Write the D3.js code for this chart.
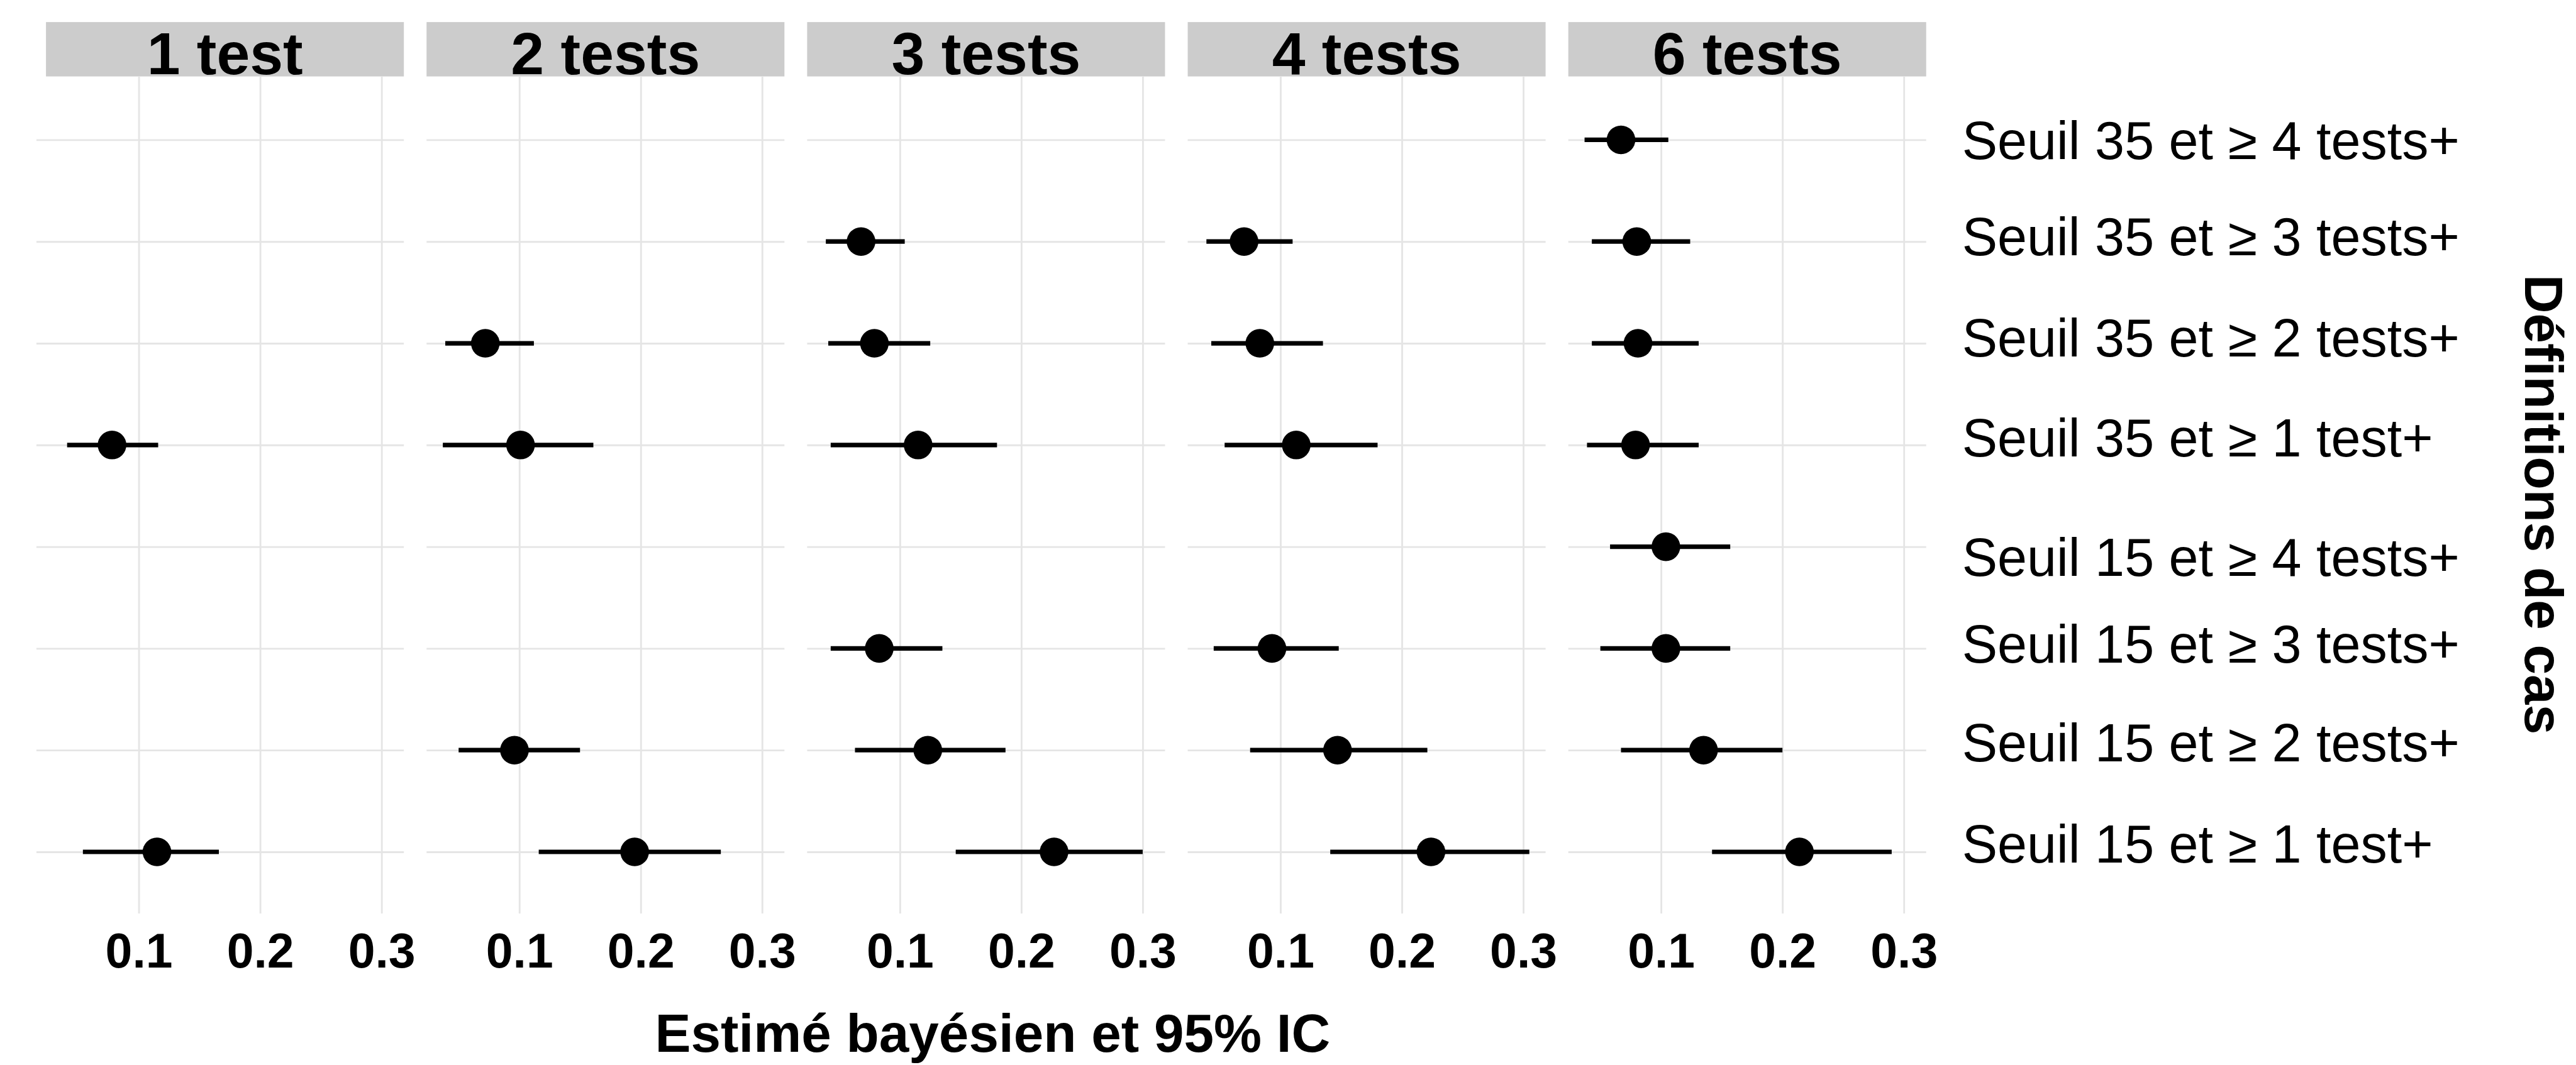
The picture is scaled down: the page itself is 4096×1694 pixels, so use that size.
<!DOCTYPE html>
<html>
<head>
<meta charset="utf-8">
<script src="https://cdn.jsdelivr.net/npm/d3@7"></script>
<style>
  body { margin: 0; background: #fff; }
  text { font-family: "Liberation Sans", Arial, sans-serif; }
</style>
</head>
<body>
<div id="root"></div>
<script>
// DATA
const panels = ["1 test", "2 tests", "3 tests", "4 tests", "6 tests"];
const rowLabels = [
  "Seuil 35 et ≥ 4 tests+",
  "Seuil 35 et ≥ 3 tests+",
  "Seuil 35 et ≥ 2 tests+",
  "Seuil 35 et ≥ 1 test+",
  "Seuil 15 et ≥ 4 tests+",
  "Seuil 15 et ≥ 3 tests+",
  "Seuil 15 et ≥ 2 tests+",
  "Seuil 15 et ≥ 1 test+"
];
const xTicks = [0.1, 0.2, 0.3];

// one row per panel, one value per case definition (null = not estimated)
const estimates = [
  [null,  null,  null,  0.078, null,  null,  null,  0.115],
  [null,  null,  0.072, 0.101, null,  null,  0.096, 0.195],
  [null,  0.068, 0.079, 0.115, null,  0.083, 0.123, 0.227],
  [null,  0.070, 0.083, 0.113, null,  0.093, 0.147, 0.224],
  [0.067, 0.080, 0.081, 0.079, 0.104, 0.104, 0.135, 0.214]
];
const lowers = [
  [null,  null,  null,  0.041, null,  null,  null,  0.054],
  [null,  null,  0.039, 0.037, null,  null,  0.050, 0.116],
  [null,  0.039, 0.041, 0.043, null,  0.043, 0.063, 0.146],
  [null,  0.039, 0.043, 0.054, null,  0.045, 0.075, 0.141],
  [0.037, 0.043, 0.043, 0.039, 0.058, 0.050, 0.067, 0.142]
];
const uppers = [
  [null,  null,  null,  0.116, null,  null,  null,  0.166],
  [null,  null,  0.112, 0.161, null,  null,  0.150, 0.266],
  [null,  0.104, 0.125, 0.180, null,  0.135, 0.187, 0.300],
  [null,  0.110, 0.135, 0.180, null,  0.148, 0.221, 0.305],
  [0.106, 0.124, 0.131, 0.131, 0.157, 0.157, 0.200, 0.290]
];

// small vertical offsets of the right-hand labels (as in the original)
const labelNudge = [0, -10, -10, -13, 16, -9, -14, -15];

// DIMENSIONS (reference pixels, scaled down as a whole)
const W = 4096, H = 1694, S = W / 4313;
const left = 77, panelW = 599.2, gap = 38;
const stripTop = 37, panelTop = 128, panelBottom = 1530;
const gridColor = "#e5e5e5";

const svg = d3.select("#root").append("svg")
  .attr("width", W)
  .attr("height", H);
const g = svg.append("g").attr("transform", `scale(${S})`);

// SCALES
const allVals = lowers.flat().concat(uppers.flat()).filter(v => v != null);
const [vmin, vmax] = d3.extent(allVals);
const pad = (vmax - vmin) * 0.05;
const x = d3.scaleLinear().domain([vmin - pad, vmax + pad]).range([0, panelW]);
const y = d3.scalePoint().domain(rowLabels).range([132, 1529]).padding(0.6);

panels.forEach((name, p) => {
  const pg = g.append("g").attr("transform", `translate(${left + p * (panelW + gap)},0)`);

  // strip
  pg.append("rect")
    .attr("x", 0).attr("y", stripTop)
    .attr("width", panelW).attr("height", panelTop - stripTop)
    .attr("fill", "#cccccc");
  pg.append("text")
    .attr("x", panelW / 2).attr("y", 124)
    .attr("text-anchor", "middle")
    .attr("font-weight", "bold")
    .attr("font-size", 100)
    .attr("fill", "#000")
    .text(name);

  // horizontal grid (first panel runs a little further left)
  const ext = p === 0 ? 16 : 0;
  const gy = pg.append("g")
    .attr("transform", `translate(${-ext},0)`)
    .call(d3.axisLeft(y).tickSize(-(panelW + ext)).tickFormat(""));
  gy.select(".domain").remove();
  gy.selectAll("line").attr("stroke", gridColor).attr("stroke-width", 3);

  // vertical grid + tick labels
  const gx = pg.append("g")
    .attr("transform", `translate(0,${panelBottom})`)
    .call(d3.axisBottom(x).tickValues(xTicks)
      .tickSize(-(panelBottom - panelTop))
      .tickPadding(33)
      .tickFormat(d3.format(".1f")));
  gx.select(".domain").remove();
  gx.selectAll("line").attr("stroke", gridColor).attr("stroke-width", 3);
  gx.selectAll("text")
    .attr("font-size", 81)
    .attr("font-weight", "bold")
    .attr("fill", "#000");

  // point ranges
  const rows = rowLabels.map((r, i) => ({row: r, est: estimates[p][i], lo: lowers[p][i], hi: uppers[p][i]}))
    .filter(d => d.est != null);

  pg.selectAll(".ci").data(rows).enter().append("line")
    .attr("x1", d => x(d.lo))
    .attr("x2", d => x(d.hi))
    .attr("y1", d => y(d.row))
    .attr("y2", d => y(d.row))
    .attr("stroke", "#000")
    .attr("stroke-width", 7.6);

  pg.selectAll(".pt").data(rows).enter().append("circle")
    .attr("cx", d => x(d.est))
    .attr("cy", d => y(d.row))
    .attr("r", 24)
    .attr("fill", "#000");

  // case definition labels on the right of the last panel
  if (p === panels.length - 1) {
    const gr = pg.append("g")
      .attr("transform", `translate(${panelW},0)`)
      .call(d3.axisRight(y).tickSize(0).tickPadding(60));
    gr.select(".domain").remove();
    gr.selectAll("text")
      .attr("font-size", 89)
      .attr("fill", "#000")
      .attr("dy", (d, i) => 31.9 + labelNudge[i]);
  }
});

// AXIS TITLES
g.append("text")
  .attr("x", 1662).attr("y", 1762)
  .attr("text-anchor", "middle")
  .attr("font-weight", "bold")
  .attr("font-size", 90)
  .text("Estimé bayésien et 95% IC");

g.append("text")
  .attr("transform", "translate(4228,845) rotate(90)")
  .attr("text-anchor", "middle")
  .attr("font-weight", "bold")
  .attr("font-size", 90)
  .text("Définitions de cas");
</script>
</body>
</html>
